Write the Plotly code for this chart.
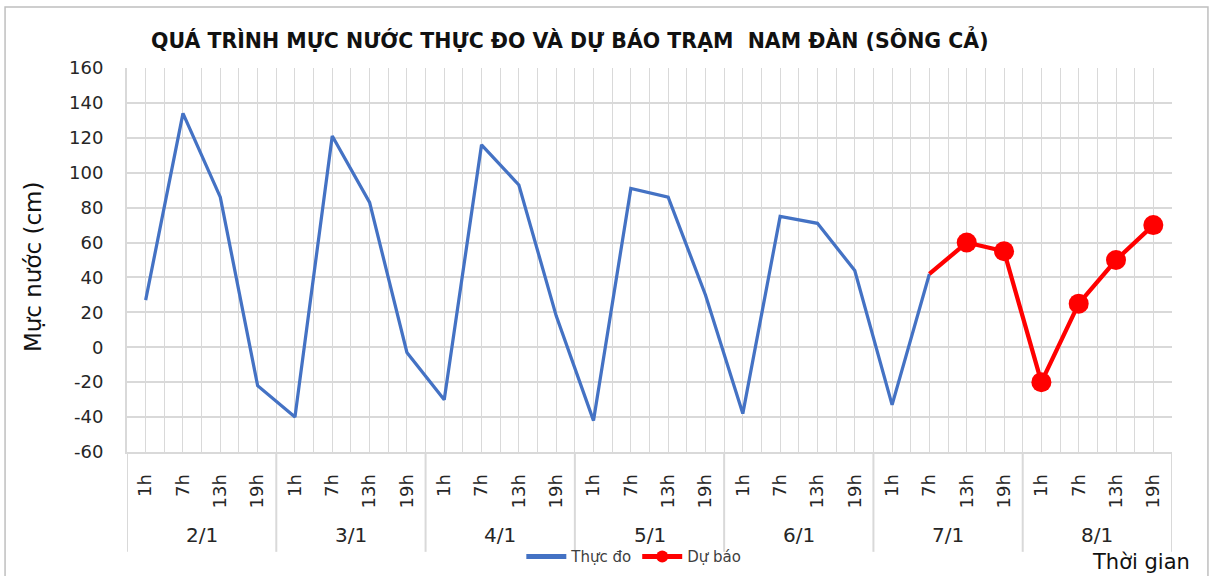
import plotly.graph_objects as go

# ---- data ----
days = ["2/1", "3/1", "4/1", "5/1", "6/1", "7/1", "8/1"]
hours = ["1h", "7h", "13h", "19h"]
observed = [27, 134, 86, -22,
            -40, 121, 83, -3,
            -30, 116, 93, 18,
            -42, 91, 86, 30,
            -38, 75, 71, 44,
            -33, 42]
forecast = [42, 60, 55, -20, 25, 50, 70]
y_ticks = [-60, -40, -20, 0, 20, 40, 60, 80, 100, 120, 140, 160]

n_cat = len(days) * len(hours)
tick_text = [h for d in days for h in hours]
x_obs = list(range(len(observed)))
fc_start = len(observed) - 1
x_fc = list(range(fc_start, fc_start + len(forecast)))

FONT = "DejaVu Sans"
BLUE = "#4472C4"
RED = "#FF0000"
GRID = "#d9d9d9"
TXT = "#262626"

fig = go.Figure()
fig.add_trace(go.Scatter(
    x=x_obs, y=observed, mode="lines", name="Thực đo",
    line=dict(color=BLUE, width=3.25)))
fig.add_trace(go.Scatter(
    x=x_fc, y=forecast, mode="lines+markers", name="Dự báo",
    line=dict(color=RED, width=4.25),
    marker=dict(color=RED, opacity=1, line=dict(width=0),
                size=[0] + [20] * (len(forecast) - 1))))

shapes = []
# day separators below the plot
for i in range(len(days) + 1):
    xb = i * len(hours) - 0.5
    shapes.append(dict(type="line", xref="x", yref="paper", x0=xb, x1=xb,
                       y0=0, y1=-0.26, line=dict(color=GRID, width=2)))
# outer chart border
shapes.append(dict(type="rect", xref="paper", yref="paper",
                   x0=-0.1167, x1=1.0344, y0=-0.35, y1=1.159,
                   line=dict(color="#bfbfbf", width=1.5), layer="below"))

annotations = []
for i, d in enumerate(days):
    annotations.append(dict(x=i * len(hours) + (len(hours) - 1) / 2, xref="x",
                            y=-0.216, yref="paper", text=d, showarrow=False,
                            font=dict(family=FONT, size=20, color=TXT),
                            yanchor="middle"))
annotations.append(dict(x=0.424, y=1.073, xref="paper", yref="paper",
                        text="<b>QUÁ TRÌNH MỰC NƯỚC THỰC ĐO VÀ DỰ BÁO TRẠM  NAM ĐÀN (SÔNG CẢ)</b>",
                        showarrow=False, font=dict(family=FONT, size=20.5, color="#111"),
                        xanchor="center", yanchor="middle"))
annotations.append(dict(x=-0.09, y=0.484, xref="paper", yref="paper",
                        text="Mực nước (cm)", textangle=-90, showarrow=False,
                        font=dict(family=FONT, size=23, color="#111"),
                        xanchor="center", yanchor="middle"))
annotations.append(dict(x=0.970, y=-0.286, xref="paper", yref="paper",
                        text="Thời gian", showarrow=False,
                        font=dict(family=FONT, size=21, color="#111"),
                        xanchor="center", yanchor="middle"))

fig.update_layout(
    width=1214, height=576,
    margin=dict(l=127, r=42, t=68, b=124, autoexpand=False),
    paper_bgcolor="white", plot_bgcolor="white",
    showlegend=True,
    legend=dict(orientation="h", x=0.485, y=-0.273, xanchor="center", yanchor="middle",
                font=dict(family=FONT, size=15, color="#404040"),
                itemsizing="constant", itemwidth=40, bgcolor="rgba(0,0,0,0)"),
    shapes=shapes, annotations=annotations,
    xaxis=dict(range=[-0.5, n_cat - 0.5], tickmode="array",
               tickvals=list(range(n_cat)), ticktext=tick_text,
               tickangle=-90, ticks="", ticklabelstandoff=13, automargin=False,
               tickfont=dict(family=FONT, size=18, color=TXT),
               showgrid=True, gridcolor=GRID, gridwidth=1,
               minor=dict(tick0=-0.5, dtick=1, showgrid=True, gridcolor=GRID, gridwidth=1),
               showline=True, linecolor=GRID, linewidth=2, zeroline=False, fixedrange=True),
    yaxis=dict(range=[y_ticks[0], y_ticks[-1]], tickmode="array", tickvals=y_ticks,
               ticktext=[str(v) for v in y_ticks], automargin=False,
               tickfont=dict(family=FONT, size=18, color=TXT),
               showgrid=True, gridcolor=GRID, gridwidth=1.5,
               zeroline=False, showline=True, linecolor=GRID, linewidth=2,
               ticks="", ticklabelstandoff=18, fixedrange=True),
)

fig.write_html("out.html", config={"displayModeBar": False},
               post_script="document.body.style.margin='0';document.body.style.overflow='hidden';")
